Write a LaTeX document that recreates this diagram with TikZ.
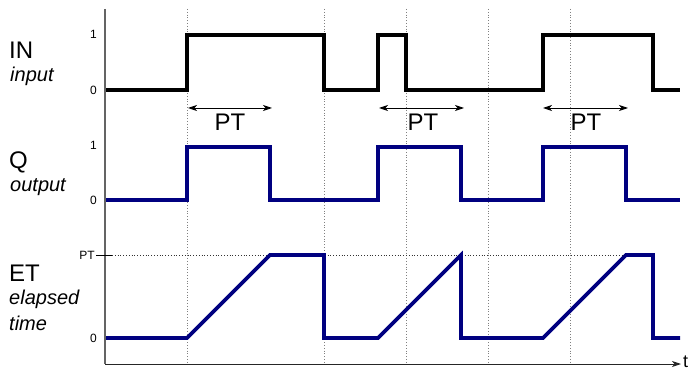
\documentclass[tikz,border=0pt]{standalone}
\usepackage{fontspec}
\setmainfont{Liberation Sans}
\usetikzlibrary{arrows.meta}
\definecolor{navy}{RGB}{0,0,128}
\definecolor{axisgray}{RGB}{100,100,100}
\tikzset{
  sig/.style={line width=3.6pt, line join=miter, miter limit=10},
  insig/.style={sig, draw=black},
  outsig/.style={sig, draw=navy},
  grid/.style={draw=gray, dotted, line width=0.8pt},
  axisline/.style={draw=axisgray, line width=1.2pt},
  ptarrow/.style={draw=black, line width=0.9pt, {Stealth[length=9pt,width=6pt,inset=2.5pt]}-{Stealth[length=9pt,width=6pt,inset=2.5pt]}},
  biglabel/.style={font=\fontsize{24}{26}\selectfont, anchor=base west, inner sep=0pt},
  sublabel/.style={font=\fontsize{20}{22}\selectfont\itshape, anchor=base west, inner sep=0pt},
  level/.style={font=\fontsize{12}{14}\selectfont, anchor=east, inner sep=0pt},
  ptlabel/.style={font=\fontsize{24}{26}\selectfont, anchor=base, inner sep=0pt}
}
\begin{document}
\begin{tikzpicture}[x=1pt,y=-1pt]
\useasboundingbox (0,0) rectangle (693,371);
% grid
\foreach \x in {187,324,406,488,570} \draw[grid] (\x,9) -- (\x,364);
\draw[grid, draw=black!80] (112,255) -- (626,255);
% signals
\draw[insig] (105,90)-|(187,35)-|(324,90)-|(378,35)-|(406,90)-|(543,35)-|(653,90)--(680,90);
\draw[outsig] (105,200)-|(187,147)-|(270,200)-|(378,147)-|(461,200)-|(543,147)-|(626,200)--(680,200);
\draw[outsig] (105,338)--(187,338)--(270,255)--(324,255)--(324,338)--(378,338)--(461,255)--(461,338)--(543,338)--(626,255)--(653,255)--(653,338)--(680,338);
% axes
\coordinate (o) at (105,364);
\coordinate (top) at (105,9);
\coordinate (tend) at (681,364);
\draw[axisline] (top) -- (o);
\draw[axisline, draw=black!85, line width=1pt, -{Stealth[length=9pt,width=6pt,inset=2.5pt]}] (o) -- (tend);
\node[font=\fontsize{18}{20}\selectfont, anchor=base west, inner sep=0pt] (t) at (683,367) {t};
% PT tick
\coordinate (tickl) at (96,255);
\coordinate (tickr) at (112,255);
\draw[black, line width=0.9pt] (tickl) -- (tickr);
\node[level] (ptlev) at (95,255) {PT};
% levels
\node[level] (in1) at (97,34) {1};
\node[level] (in0) at (97,90) {0};
\node[level] (q1) at (97,145) {1};
\node[level] (q0) at (97,200) {0};
\node[level] (et0) at (97,338) {0};
% PT arrows
\coordinate (a1l) at (188,108); \coordinate (a1r) at (272,108);
\coordinate (a2l) at (379,108); \coordinate (a2r) at (464,108);
\coordinate (a3l) at (543,108); \coordinate (a3r) at (628,108);
\draw[ptarrow] (a1l) -- (a1r);
\draw[ptarrow] (a2l) -- (a2r);
\draw[ptarrow] (a3l) -- (a3r);
\node[ptlabel] (pt1) at (230,131) {PT};
\node[ptlabel] (pt2) at (423,131) {PT};
\node[ptlabel] (pt3) at (586,131) {PT};
% left labels
\node[biglabel] (IN) at (9,59) {IN};
\node[sublabel] (input) at (10,82) {input};
\node[biglabel] (Q) at (9,169) {Q};
\node[sublabel] (output) at (10,192) {output};
\node[biglabel] (ET) at (9,282) {ET};
\node[sublabel] (elapsed) at (9,305) {elapsed};
\node[sublabel] (time) at (9,330) {time};
\end{tikzpicture}
\end{document}
